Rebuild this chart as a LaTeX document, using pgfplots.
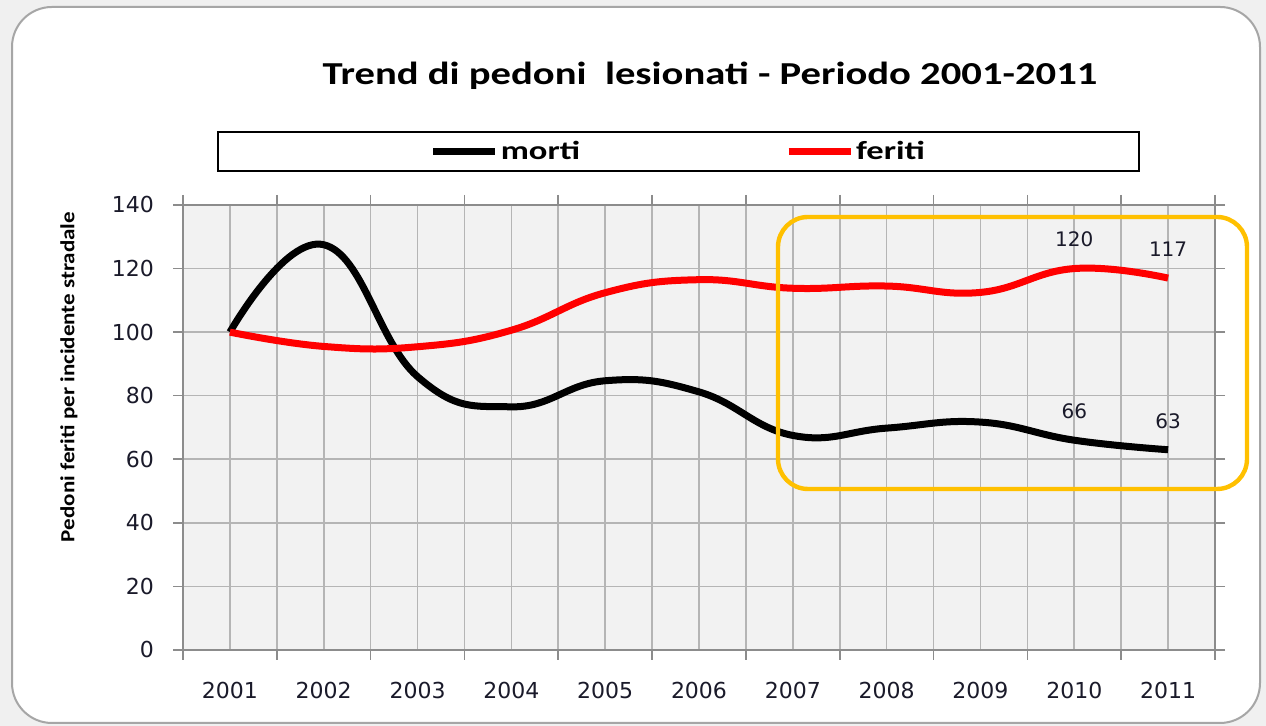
\documentclass[border=0pt]{standalone}
\usepackage{pgfplots}
\pgfplotsset{compat=1.18}
\usepackage{fontspec}
\setmainfont{DejaVu Sans}
\newfontfamily\calibri{Carlito}
\definecolor{gold}{HTML}{FFC000}
\definecolor{plotbg}{HTML}{F2F2F2}
\definecolor{gridc}{HTML}{B5B5B5}
\definecolor{axisc}{HTML}{8C8C8C}
\definecolor{frame}{HTML}{A6A6A6}
\definecolor{txt}{HTML}{1A1A2A}

\pgfplotstableread{
x y
0 100
1 127.5
2 86
3 76.5
4 84.7
5 81.2
6 67.5
7 69.8
8 71.7
9 66
10 63
}\morti
\pgfplotstableread{
x y
0 100
1 95.5
2 95.4
3 100.6
4 112.4
5 116.5
6 113.8
7 114.5
8 112.5
9 120
10 117
}\feriti

\begin{document}
\begin{tikzpicture}[x=0.5pt,y=0.5pt]
\fill[black!6] (0,0) rectangle (1266,726);
\draw[line width=1pt, draw=frame, fill=white, rounded corners=20pt] (12,726-7) rectangle (1260,726-723);

\begin{axis}[
  at={(91.5pt,38pt)}, anchor=south west,
  scale only axis, width=516pt, height=222.5pt,
  xmin=-0.5, xmax=10.5, ymin=0, ymax=140,
  xtick={-0.5,0.5,...,10.5},
  x tick label as interval,
  xticklabels={2001,2002,2003,2004,2005,2006,2007,2008,2009,2010,2011},
  minor xtick={0,...,10},
  ytick={0,20,...,140},
  xmajorgrids, xminorgrids, ymajorgrids,
  major grid style={gridc, line width=0.8pt},
  minor grid style={gridc, line width=0.8pt},
  tick align=outside,
  major tick length=5pt,
  minor tick length=0pt,
  tick style={axisc, line width=0.8pt},
  axis line style={axisc, line width=0.8pt},
  axis background/.style={fill=plotbg},
  /pgf/number format/assume math mode=true,
  ticklabel style={font=\fontsize{11}{13}\selectfont, text=txt},
  xticklabel style={yshift=-7.5pt},
  yticklabel style={xshift=-6pt},
  legend style={at={(axis description cs:0.0329,1.1663)}, anchor=north west,
    draw=black, line width=0.9pt, fill=white,
    inner xsep=106pt, inner ysep=3.5pt,
    font=\calibri\bfseries\fontsize{13}{15}\selectfont,
    nodes={inner xsep=1pt, inner ysep=1pt},
    /tikz/every even column/.append style={column sep=101.5pt}},
  legend columns=2,
  legend image code/.code={\draw[#1] (0pt,0pt) -- (31pt,0pt);},
]
\addplot[black, line width=3.5pt, smooth, tension=0.75] table[x=x,y=y] {\morti};
\addlegendentry{\scalebox{1.33}[1]{morti}}
\addplot[red, line width=3.5pt, smooth, tension=0.75] table[x=x,y=y] {\feriti};
\addlegendentry{\scalebox{1.33}[1]{feriti}}
\addplot[draw=none, nodes near coords, point meta=explicit symbolic,
  nodes near coords style={anchor=center, yshift=14.5pt, font=\fontsize{10}{12}\selectfont, text=txt}, forget plot]
  coordinates {(9,120)[120] (10,117)[117] (9,66)[66] (10,63)[63]};
\end{axis}

\draw[gold, line width=2.2pt, rounded corners=15pt] (778,726-217) rectangle (1247,726-489);

\node[anchor=base, font=\calibri\bfseries\fontsize{16}{18}\selectfont] at (710,726-85)
  {\scalebox{1.27}[1]{Trend di pedoni\ \ lesionati - Periodo 2001-2011}};
\node[rotate=90, font=\calibri\bfseries\fontsize{10}{12}\selectfont] at (69,726-377)
  {\scalebox{1.15}[1]{Pedoni feriti per incidente stradale}};
\end{tikzpicture}
\end{document}
